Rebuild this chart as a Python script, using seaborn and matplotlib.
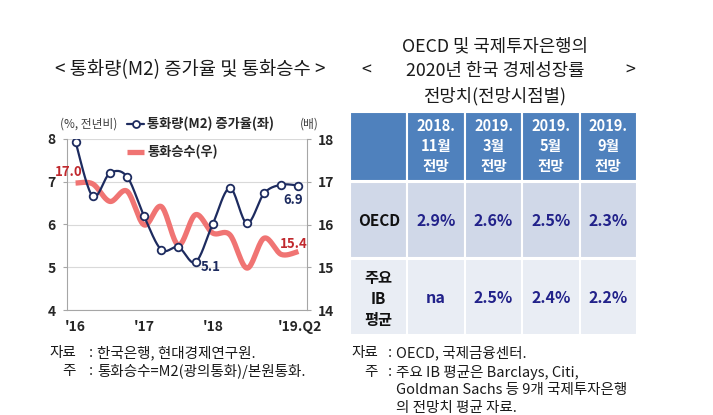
import numpy as np
import pandas as pd
import matplotlib
matplotlib.use("Agg")
import matplotlib.pyplot as plt
import seaborn as sns
from matplotlib.lines import Line2D
from matplotlib.patches import Rectangle

# ---------------- data ----------------
quarters = ["2016Q1", "2016Q2", "2016Q3", "2016Q4", "2017Q1", "2017Q2", "2017Q3",
            "2017Q4", "2018Q1", "2018Q2", "2018Q3", "2018Q4", "2019Q1", "2019Q2"]
m2_growth = [7.93, 6.66, 7.20, 7.12, 6.19, 5.41, 5.47, 5.12, 6.01, 6.85, 6.03, 6.73, 6.93, 6.91]
money_mult = [16.97, 16.95, 16.54, 16.78, 15.99, 16.42, 15.52, 16.23, 15.80, 15.76, 14.98, 15.68, 15.30, 15.37]
year_labels = ["'16", "'17", "'18", "'19.Q2"]

table_cols = [["2018.", "11월", "전망"], ["2019.", "3월", "전망"],
              ["2019.", "5월", "전망"], ["2019.", "9월", "전망"]]
row_oecd_label = ["OECD"]
row_ib_label = ["주요", "IB", "평균"]
oecd_vals = ["2.9%", "2.6%", "2.5%", "2.3%"]
ib_vals = ["na", "2.5%", "2.4%", "2.2%"]

# ---------------- style ----------------
sns.set_style("white")
plt.rcParams["font.family"] = ["Noto Sans CJK KR", "DejaVu Sans"]

W, H = 713, 415
fig = plt.figure(figsize=(W / 100, H / 100), dpi=100)
fig.patch.set_facecolor("white")

NAVY = "#1d2b5f"
RED = "#f07473"
RED_TXT = "#c0282d"
SPINE = "#a6a6a6"
TXT = "#262626"

L, R, T, B = 67, 307, 139, 310
ax = fig.add_axes([L / W, 1 - B / H, (R - L) / W, (B - T) / H])
ax2 = ax.twinx()
ax.yaxis.tick_right()
ax2.yaxis.tick_left()


def smooth(xs, ys, n=20):
    P = np.column_stack([np.asarray(xs, float), np.asarray(ys, float)])
    P = np.vstack([P[0], P, P[-1]])
    t = np.linspace(0, 1, n, endpoint=False)[:, None]
    out = []
    for i in range(1, len(P) - 2):
        p0, p1, p2, p3 = P[i - 1], P[i], P[i + 1], P[i + 2]
        seg = 0.5 * (2 * p1 + (-p0 + p2) * t + (2 * p0 - 5 * p1 + 4 * p2 - p3) * t ** 2
                     + (-p0 + 3 * p1 - 3 * p2 + p3) * t ** 3)
        out.append(seg)
    out.append(P[-2][None, :])
    return np.vstack(out)


idx = np.arange(len(quarters))
df = pd.DataFrame({"q": idx, "m2": m2_growth, "mm": money_mult})

sm_red = smooth(df["q"], df["mm"])
sm_blue = smooth(df["q"], df["m2"])

sns.lineplot(x=sm_red[:, 0], y=sm_red[:, 1], ax=ax, sort=False, estimator=None,
             color=RED, linewidth=3.8, solid_capstyle="butt", legend=False)
sns.lineplot(x=sm_blue[:, 0], y=sm_blue[:, 1], ax=ax2, sort=False, estimator=None,
             color=NAVY, linewidth=1.6, legend=False)
sns.scatterplot(data=df, x="q", y="m2", ax=ax2, s=30, color="white",
                edgecolor=NAVY, linewidth=1.3, zorder=5, legend=False)

ax.set_xlim(-0.5, 13.5)
ax.set_ylim(14, 18)
ax2.set_ylim(4, 8)
ax.set_yticks([14, 15, 16, 17, 18])
ax2.set_yticks([4, 5, 6, 7, 8])
ax.set_yticklabels([str(v) for v in [14, 15, 16, 17, 18]], fontweight="bold")
ax2.set_yticklabels([str(v) for v in [4, 5, 6, 7, 8]], fontweight="bold")
ax.grid(axis="y", color="#d9d9d9", linewidth=0.8)
ax.set_axisbelow(True)

ax.set_xticks([0, 4, 8, 13.1])
ax.set_xticklabels(year_labels, fontweight="bold")
ax.set_xticks(np.arange(-0.5, 14, 1), minor=True)
ax.tick_params(axis="x", which="major", length=0, pad=7, labelsize=10, labelcolor=TXT)
ax.tick_params(axis="x", which="minor", length=4, direction="out", color=SPINE, width=0.8)
ax.tick_params(axis="y", length=3, direction="out", color=SPINE, pad=5, labelsize=10,
               labelcolor=TXT, width=0.8)
ax2.tick_params(axis="y", length=3, direction="out", color=SPINE, pad=5, labelsize=10,
                labelcolor=TXT, width=0.8)
ax.set_xlabel("")
ax.set_ylabel("")
ax2.set_ylabel("")
for a in (ax, ax2):
    for s in a.spines.values():
        s.set_color(SPINE)
        s.set_linewidth(0.8)
    a.spines["top"].set_visible(False)
for s in ax2.spines.values():
    s.set_visible(False)

# data labels
lab_kw = dict(textcoords="offset points", ha="center", va="center",
              fontweight="bold", fontsize=9.5)
ax.annotate(f"{money_mult[0]:.1f}", (0, money_mult[0]), xytext=(-5, 8), color=RED_TXT, **lab_kw)
ax.annotate(f"{money_mult[-1]:.1f}", (13, money_mult[-1]), xytext=(-3.2, 5.6), color=RED_TXT, **lab_kw)
ax2.annotate(f"{m2_growth[7]:.1f}", (7, m2_growth[7]), xytext=(11, -3.6), color=NAVY, **lab_kw)
ax2.annotate(f"{m2_growth[-1]:.1f}", (13, m2_growth[-1]), xytext=(-3.6, -10.4), color=NAVY, **lab_kw)

# legends
h1 = Line2D([], [], color=NAVY, lw=1.6, marker="o", markersize=5, markerfacecolor="white",
            markeredgecolor=NAVY, markeredgewidth=1.3)
h2 = Line2D([], [], color=RED, lw=3.8, solid_capstyle="butt")
leg_kw = dict(loc="center left", bbox_transform=fig.transFigure, frameon=False, borderpad=0,
              borderaxespad=0, handlelength=1.3, handletextpad=0.25,
              prop={"family": ["Noto Sans CJK KR", "DejaVu Sans"], "weight": "bold", "size": 9.5})
leg1 = ax2.legend(handles=[h1], labels=["통화량(M2) 증가율(좌)"],
                  bbox_to_anchor=(127 / W, 1 - 124 / H), **leg_kw)
ax2.add_artist(leg1)
leg2 = ax2.legend(handles=[h2], labels=["통화승수(우)"],
                  bbox_to_anchor=(127 / W, 1 - 152 / H), **leg_kw)

# ---------------- overlay (titles, table, notes) ----------------
ov = fig.add_axes([0, 0, 1, 1], zorder=10)
ov.set_xlim(0, W)
ov.set_ylim(H, 0)
ov.axis("off")
ov.patch.set_alpha(0)

ov.text(190, 70, "< 통화량(M2) 증가율 및 통화승수 >", ha="center", va="center",
        fontsize=13.5, color="#1a1a1a")
ov.text(60, 124, "(%, 전년비)", ha="left", va="center", fontsize=8.5, color="#404040")
ov.text(300, 124, "(배)", ha="left", va="center", fontsize=8.5, color="#404040")

note_kw = dict(va="center", fontsize=10.5, color="#1a1a1a")
ov.text(76, 353, "자료", ha="right", **note_kw)
ov.text(91, 353, ":", ha="center", **note_kw)
ov.text(97, 353, "한국은행, 현대경제연구원.", ha="left", **note_kw)
ov.text(76, 371, "주", ha="right", **note_kw)
ov.text(91, 371, ":", ha="center", **note_kw)
ov.text(97, 371, "통화승수=M2(광의통화)/본원통화.", ha="left", **note_kw)

# right title
for yy, line in zip([46, 71, 96], ["OECD 및 국제투자은행의", "2020년 한국 경제성장률", "전망치(전망시점별)"]):
    ov.text(495, yy, line, ha="center", va="center", fontsize=12.8, color="#1a1a1a")
ov.text(366, 71, "<", ha="center", va="center", fontsize=12.8, color="#1a1a1a")
ov.text(630, 71, ">", ha="center", va="center", fontsize=12.8, color="#1a1a1a")

# table
x0, x1 = 350, 637
ncol = 5
cw = (x1 - x0) / ncol
rows = [(112, 181, "#4f81bd"), (182, 258, "#d0d8e8"), (259, 335, "#e9edf4")]
for (ya, yb, colr) in rows:
    for c in range(ncol):
        ov.add_patch(Rectangle((x0 + c * cw, ya), cw, yb - ya, facecolor=colr,
                               edgecolor="white", linewidth=1.5))
HDR = "#ffffff"
VAL = "#22228a"
for c, lines in enumerate(table_cols):
    cx = x0 + (c + 1.5) * cw
    for k, t in enumerate(lines):
        ov.text(cx, 126 + 20 * k, t, ha="center", va="center", fontsize=10.5,
                fontweight="bold", color=HDR)
ov.text(x0 + 0.5 * cw, 221, row_oecd_label[0], ha="center", va="center", fontsize=11,
        fontweight="bold", color="#111111")
for k, t in enumerate(row_ib_label):
    ov.text(x0 + 0.5 * cw, 278 + 21 * k, t, ha="center", va="center", fontsize=11,
            fontweight="bold", color="#111111")
for c in range(4):
    cx = x0 + (c + 1.5) * cw
    ov.text(cx, 221, oecd_vals[c], ha="center", va="center", fontsize=11.5,
            fontweight="bold", color=VAL)
    ov.text(cx, 298, ib_vals[c], ha="center", va="center", fontsize=11.5,
            fontweight="bold", color=VAL)

ov.text(378, 353, "자료", ha="right", **note_kw)
ov.text(390, 353, ":", ha="center", **note_kw)
ov.text(396, 353, "OECD, 국제금융센터.", ha="left", **note_kw)
ov.text(378, 372, "주", ha="right", **note_kw)
ov.text(390, 372, ":", ha="center", **note_kw)
ov.text(396, 372, "주요 IB 평균은 Barclays, Citi,", ha="left", **note_kw)
ov.text(396, 390, "Goldman Sachs 등 9개 국제투자은행", ha="left", **note_kw)
ov.text(396, 408, "의 전망치 평균 자료.", ha="left", **note_kw)

fig.savefig("out.png", dpi=100, facecolor="white")
